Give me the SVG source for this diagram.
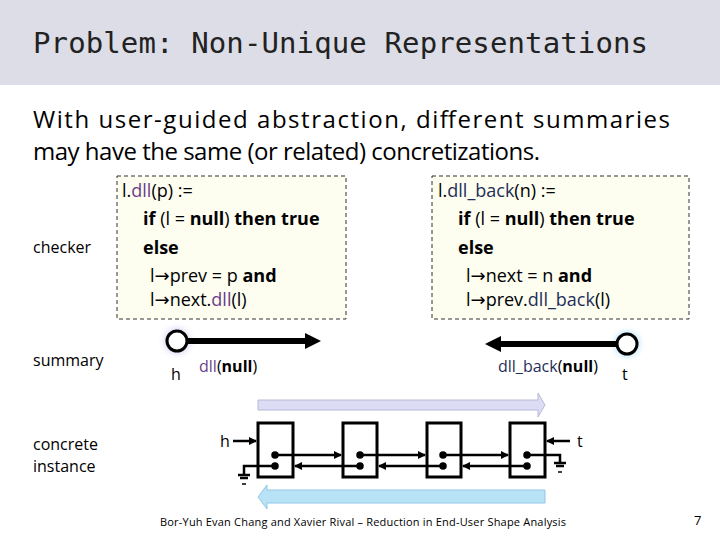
<svg xmlns="http://www.w3.org/2000/svg" width="720" height="540" viewBox="0 0 720 540">
<defs>
<style>
.t{font-family:"Open Sans","DejaVu Sans",sans-serif;fill:#000}
.b{font-weight:bold}
.p{fill:#6a3d8a}
.n{fill:#1f2f5a}
.box{fill:#fdfdf0;stroke:#333;stroke-width:1;stroke-dasharray:4,3}
.nd{fill:#fff;stroke:#000;stroke-width:3}
</style>
<marker id="ah" markerWidth="8" markerHeight="8" refX="7" refY="4" orient="auto" markerUnits="userSpaceOnUse" viewBox="0 0 8 8"><path d="M0,0 L8,4 L0,8 Z" fill="#000"/></marker>
<marker id="bh" markerWidth="16" markerHeight="16" refX="0" refY="8" orient="auto" markerUnits="userSpaceOnUse" viewBox="0 0 16 16"><path d="M0,0 L16,8 L0,16 Z" fill="#000"/></marker>
<filter id="gl" x="-50%" y="-50%" width="200%" height="200%"><feGaussianBlur stdDeviation="3"/></filter>
</defs>
<rect width="720" height="540" fill="#fff"/>
<rect width="720" height="85" fill="#dcdde6"/>
<text x="33" y="53" font-family="'DejaVu Sans Mono','Liberation Mono',monospace" font-size="29" fill="#222" textLength="615">Problem: Non-Unique Representations</text>
<text class="t" x="33" y="128" font-size="24" textLength="637">With user-guided abstraction, different summaries</text>
<text class="t" x="33" y="160" font-size="24" textLength="507">may have the same (or related) concretizations.</text>
<text class="t" x="33" y="253" font-size="16">checker</text>
<text class="t" x="33" y="366" font-size="16">summary</text>
<text class="t" x="33" y="450" font-size="16">concrete</text>
<text class="t" x="33" y="472" font-size="16">instance</text>
<g id="box1">
<rect class="box" x="117" y="176" width="229" height="143"/>
<text class="t" x="122" y="197" font-size="18">l.<tspan class="p">dll</tspan>(p) :=</text>
<text class="t b" x="143" y="225" font-size="18">if <tspan font-weight="normal">(l = </tspan>null<tspan font-weight="normal">)</tspan> then true</text>
<text class="t b" x="143" y="254" font-size="18">else</text>
<text class="t" x="150" y="282" font-size="18">l→prev = p  <tspan font-weight="bold">and</tspan></text>
<text class="t" x="150" y="306" font-size="18">l→next.<tspan class="p">dll</tspan>(l)</text>
</g>
<g id="box2">
<rect class="box" x="432" y="176" width="257" height="143"/>
<text class="t" x="438" y="197" font-size="18">l.<tspan class="n">dll_back</tspan>(n) :=</text>
<text class="t b" x="458" y="225" font-size="18">if <tspan font-weight="normal">(l = </tspan>null<tspan font-weight="normal">)</tspan> then true</text>
<text class="t b" x="458" y="254" font-size="18">else</text>
<text class="t" x="466" y="282" font-size="18">l→next = n  <tspan font-weight="bold">and</tspan></text>
<text class="t" x="466" y="306" font-size="18">l→prev.<tspan class="n">dll_back</tspan>(l)</text>
</g>
<g id="sum1">
<circle cx="177" cy="341" r="12" fill="#c8c8f0" filter="url(#gl)"/>
<line x1="187" y1="341" x2="305" y2="341" stroke="#000" stroke-width="6" marker-end="url(#bh)"/>
<circle class="nd" cx="177" cy="341" r="10"/>
<text class="t" x="171" y="380" font-size="16">h</text>
<text class="t" x="199" y="372" font-size="16"><tspan class="p">dll</tspan>(<tspan font-weight="bold">null</tspan>)</text>
</g>
<g id="sum2">
<line x1="485" y1="344" x2="615" y2="344" stroke="#aee0f8" stroke-width="14" filter="url(#gl)"/>
<circle cx="627" cy="344" r="12" fill="#aee0f8" filter="url(#gl)"/>
<line x1="617" y1="344" x2="501" y2="344" stroke="#000" stroke-width="6" marker-end="url(#bh)"/>
<circle class="nd" cx="627" cy="344" r="10"/>
<text class="t" x="498" y="372" font-size="16"><tspan class="n">dll_back</tspan>(<tspan font-weight="bold">null</tspan>)</text>
<text class="t" x="622" y="380" font-size="16">t</text>
</g>
<g id="arrows-bg">
<path d="M258,400 L538,400 L538,393 L545,405 L538,417 L538,410 L258,410 Z" fill="#dcdcf4" stroke="#b8b8d8"/>
<path d="M545,490 L267,490 L267,485 L258,497 L267,509 L267,503 L545,503 Z" fill="#b8e2f6" stroke="#90c8e8"/>
</g>
<g id="n1"><rect x="258" y="423" width="35" height="54" fill="#fff" stroke="#000" stroke-width="3"/></g>
<g id="n2"><rect x="343" y="423" width="34" height="54" fill="#fff" stroke="#000" stroke-width="3"/></g>
<g id="n3"><rect x="427" y="423" width="34" height="54" fill="#fff" stroke="#000" stroke-width="3"/></g>
<g id="n4"><rect x="510" y="423" width="35" height="54" fill="#fff" stroke="#000" stroke-width="3"/></g>
<g id="connectors" stroke="#000" stroke-width="2.5" fill="#000">
<line x1="233" y1="441" x2="256" y2="441" marker-end="url(#ah)"/>
<line x1="570" y1="441" x2="547" y2="441" marker-end="url(#ah)"/>
<circle cx="275" cy="455" r="2.5"/><line x1="275" y1="455" x2="341" y2="455" marker-end="url(#ah)"/>
<circle cx="360" cy="455" r="2.5"/><line x1="360" y1="455" x2="425" y2="455" marker-end="url(#ah)"/>
<circle cx="443" cy="455" r="2.5"/><line x1="443" y1="455" x2="508" y2="455" marker-end="url(#ah)"/>
<circle cx="360" cy="466" r="2.5"/><line x1="360" y1="466" x2="295" y2="466" marker-end="url(#ah)"/>
<circle cx="443" cy="466" r="2.5"/><line x1="443" y1="466" x2="379" y2="466" marker-end="url(#ah)"/>
<circle cx="527" cy="466" r="2.5"/><line x1="527" y1="466" x2="463" y2="466" marker-end="url(#ah)"/>
<circle cx="275" cy="466" r="2.5"/><polyline points="275,466 244,466 244,474" fill="none"/>
<line x1="238" y1="475" x2="250" y2="475"/><line x1="240" y1="478" x2="248" y2="478"/><line x1="242" y1="484" x2="246" y2="484" stroke-width="1.5"/>
<circle cx="527" cy="455" r="2.5"/><polyline points="527,455 560,455 560,462" fill="none"/>
<line x1="554" y1="463" x2="566" y2="463"/><line x1="556" y1="466" x2="564" y2="466"/><line x1="558" y1="472" x2="562" y2="472" stroke-width="1.5"/>
</g>
<text class="t" x="220" y="447" font-size="16">h</text>
<text class="t" x="577" y="447" font-size="16">t</text>
<text class="t" x="160" y="526" font-size="11" textLength="406">Bor-Yuh Evan Chang and Xavier Rival – Reduction in End-User Shape Analysis</text>
<text class="t" x="694" y="525" font-size="13">7</text>
</svg>
